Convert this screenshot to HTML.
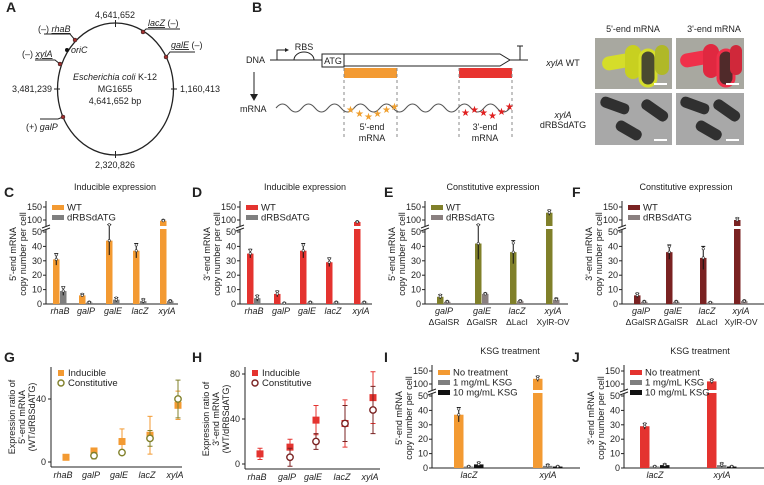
<!DOCTYPE html>
<html><head><meta charset="utf-8"><style>
html,body{margin:0;padding:0;background:#fff}
svg{display:block;font-family:"Liberation Sans",sans-serif}
text{fill:#222}
</style></head><body>
<svg id="fig" width="764" height="485" viewBox="0 0 764 485" xmlns="http://www.w3.org/2000/svg">
<g font-weight="bold" font-size="14">
<text x="6" y="12">A</text>
<text x="252" y="12">B</text>
<text x="4" y="197">C</text>
<text x="192" y="197">D</text>
<text x="384" y="197">E</text>
<text x="572" y="197">F</text>
<text x="4" y="362">G</text>
<text x="192" y="362">H</text>
<text x="384" y="362">I</text>
<text x="572" y="362">J</text>
</g>
<!-- Panel A -->
<g font-size="9">
<ellipse cx="115.5" cy="89" rx="58" ry="66" fill="none" stroke="#222" stroke-width="1.3"/>
<line x1="115.5" y1="20" x2="115.5" y2="27" stroke="#222"/>
<line x1="115.5" y1="151" x2="115.5" y2="158" stroke="#222"/>
<line x1="54" y1="89" x2="60" y2="89" stroke="#222"/>
<line x1="171" y1="89" x2="177" y2="89" stroke="#222"/>
<text x="115" y="18" text-anchor="middle">4,641,652</text>
<text x="115" y="168" text-anchor="middle">2,320,826</text>
<text x="52" y="92" text-anchor="end">3,481,239</text>
<text x="180" y="92">1,160,413</text>
<text x="115" y="80" text-anchor="middle" font-style="italic">Escherichia coli <tspan font-style="normal">K-12</tspan></text>
<text x="115" y="92" text-anchor="middle">MG1655</text>
<text x="115" y="104" text-anchor="middle">4,641,652 bp</text>
<g stroke="#222" fill="none">
<path d="M143,32 L146,29 L180,29"/>
<path d="M166,57 L170,52 L195,52"/>
<path d="M75,40 L70,34 L44,34"/>
<path d="M60,64 L55,60 L35,60"/>
<path d="M63,117 L58,119 L40,119"/>
</g>
<g fill="#a03030" stroke="#222" stroke-width="0.5">
<circle cx="143" cy="32" r="2"/>
<circle cx="166" cy="57" r="2"/>
<circle cx="75" cy="40" r="2"/>
<circle cx="60" cy="64" r="2"/>
<circle cx="63" cy="117" r="2"/>
</g>
<circle cx="67" cy="50" r="2" fill="#111"/>
<text x="71" y="53" font-style="italic">oriC</text>
<text x="148" y="26"><tspan font-style="italic" text-decoration="underline">lacZ</tspan> (–)</text>
<text x="171" y="48"><tspan font-style="italic" text-decoration="underline">galE</tspan> (–)</text>
<text x="38" y="32">(–) <tspan font-style="italic" text-decoration="underline">rhaB</tspan></text>
<text x="22" y="57">(–) <tspan font-style="italic" text-decoration="underline">xylA</tspan></text>
<text x="26" y="130">(+) <tspan font-style="italic">galP</tspan></text>
</g>
<!-- Panel B -->
<g font-size="9">
<text x="246" y="63">DNA</text>
<line x1="254" y1="72" x2="254" y2="96" stroke="#222"/>
<polygon points="250,94 258,94 254,101" fill="#222"/>
<text x="240" y="112">mRNA</text>
<line x1="270" y1="60" x2="322" y2="60" stroke="#222"/>
<path d="M277,60 L277,50 L285,50" fill="none" stroke="#222"/>
<polygon points="285,48 289,50 285,52" fill="#222"/>
<path d="M294,60 A10,8 0 0 1 314,60" fill="none" stroke="#222"/>
<text x="304" y="50" text-anchor="middle">RBS</text>
<rect x="322" y="54" width="22" height="13" fill="#fff" stroke="#222"/>
<text x="333" y="64" text-anchor="middle">ATG</text>
<path d="M344,54 L500,54 L510,60 L500,66 L344,66" fill="none" stroke="#222"/>
<line x1="510" y1="60" x2="528" y2="60" stroke="#222"/>
<path d="M520,60 L520,46 M517,46 L523,46" stroke="#222"/>
<rect x="344" y="68" width="53" height="10" fill="#f39a32"/>
<rect x="459" y="68" width="53" height="10" fill="#e8332f"/>
<g stroke="#888" stroke-dasharray="3,3"><line x1="344" y1="68" x2="344" y2="140"/><line x1="397" y1="68" x2="397" y2="140"/><line x1="459" y1="68" x2="459" y2="140"/><line x1="512" y1="68" x2="512" y2="140"/></g>
<path d="M276,108 q6.5,-8 13,0 t13,0 t13,0 t13,0 t13,0 t13,0 t13,0 t13,0 t13,0 t13,0 t13,0 t13,0 t13,0 t13,0 t13,0 t13,0 t13,0 t13,0" fill="none" stroke="#555"/>
<g font-size="10"><text x="346" y="113" style="fill:#f0a030">★</text><text x="355" y="117" style="fill:#f0a030">★</text><text x="364" y="120" style="fill:#f0a030">★</text><text x="373" y="117" style="fill:#f0a030">★</text><text x="382" y="113" style="fill:#f0a030">★</text><text x="390" y="110" style="fill:#f0a030">★</text></g>
<g font-size="10"><text x="461" y="116" style="fill:#e02020">★</text><text x="470" y="113" style="fill:#e02020">★</text><text x="479" y="116" style="fill:#e02020">★</text><text x="488" y="119" style="fill:#e02020">★</text><text x="497" y="115" style="fill:#e02020">★</text><text x="505" y="110" style="fill:#e02020">★</text></g>
<text x="372" y="130" text-anchor="middle">5'-end</text>
<text x="372" y="141" text-anchor="middle">mRNA</text>
<text x="485" y="130" text-anchor="middle">3'-end</text>
<text x="485" y="141" text-anchor="middle">mRNA</text>
</g>
<g font-size="9">
<text x="633" y="32" text-anchor="middle">5'-end mRNA</text>
<text x="714" y="32" text-anchor="middle">3'-end mRNA</text>
<text x="563" y="66" text-anchor="middle"><tspan font-style="italic">xylA</tspan> WT</text>
<text x="563" y="118" text-anchor="middle" font-style="italic">xylA</text>
<text x="563" y="128" text-anchor="middle">dRBSdATG</text>
<rect x="595" y="38" width="77" height="51" fill="#a8a8a0"/>
<rect x="676" y="38" width="68" height="51" fill="#a8a8a0"/>
<rect x="595" y="93" width="77" height="52" fill="#a8a8a8"/>
<rect x="676" y="93" width="68" height="52" fill="#a8a8a8"/>
<g><rect x="602" y="55" width="30" height="14" rx="7" fill="#d5dd2a" transform="rotate(-10 617 62)"/><rect x="625" y="45" width="16" height="34" rx="8" fill="#c8d020"/><rect x="640" y="50" width="16" height="36" rx="8" fill="#4a4a30" stroke="#d5dd2a" stroke-width="3"/><rect x="655" y="45" width="14" height="30" rx="7" fill="#b0b828"/></g>
<g><rect x="680" y="52" width="30" height="14" rx="7" fill="#f0304a" transform="rotate(-10 695 59)"/><rect x="703" y="44" width="16" height="34" rx="8" fill="#e02840"/><rect x="718" y="50" width="16" height="36" rx="8" fill="#502a2a" stroke="#f0304a" stroke-width="3"/><rect x="730" y="45" width="12" height="30" rx="6" fill="#d0283a"/></g>
<g fill="#303030"><rect x="600" y="100" width="30" height="11" rx="5" transform="rotate(20 615 105)"/><rect x="640" y="105" width="30" height="11" rx="5" transform="rotate(35 655 110)"/><rect x="615" y="125" width="28" height="11" rx="5" transform="rotate(30 629 130)"/><rect x="680" y="100" width="30" height="11" rx="5" transform="rotate(20 695 105)"/><rect x="712" y="105" width="30" height="11" rx="5" transform="rotate(35 727 110)"/><rect x="695" y="125" width="28" height="11" rx="5" transform="rotate(30 709 130)"/></g>
<g stroke="#fff" stroke-width="2"><line x1="654" y1="84" x2="667" y2="84"/><line x1="726" y1="84" x2="739" y2="84"/><line x1="654" y1="140" x2="667" y2="140"/><line x1="726" y1="140" x2="739" y2="140"/></g>
</g>
<g id="charts"></g>
</svg>
<script>
// ---- data ----
var catsInducible = ["rhaB","galP","galE","lacZ","xylA"];
var catsConst = ["galP","galE","lacZ","xylA"];
var catsConst2 = ["\u0394GalSR","\u0394GalSR","\u0394LacI","XylR-OV"];
var cWT = [31,6,44,37,92];      var cWTerr = [4,1,10,5,8];
var cMut = [9,1,3,2,2];         var cMutErr = [3,0.5,1.5,1.5,0.5];
var dWT = [35,7,37,29,80];      var dWTerr = [3,2,5,3,6];
var dMut = [4,0.5,1,1,1];       var dMutErr = [2,0.3,0.5,0.5,0.5];
var eWT = [5,42,36,128];        var eWTerr = [1.5,11,8,10];
var eMut = [1.5,7,2,3];         var eMutErr = [0.5,0.5,0.5,1];
var fWT = [6,36,32,100];        var fWTerr = [1.5,5,8,8];
var fMut = [1.5,1.5,1,2];       var fMutErr = [0.5,0.5,0.3,0.5];
var catsKSG = ["lacZ","xylA"];
var iNo = [37,120];  var iNoErr = [5,10];
var i1 = [1,1.5];    var i1Err = [0.3,1];
var i10 = [2.5,1];   var i10Err = [1.5,0.3];
var jNo = [29,110];  var jNoErr = [2,8];
var j1 = [1,2];      var j1Err = [0.3,1.5];
var j10 = [2,1];     var j10Err = [0.8,0.3];
var gInd = [3,7,13,17,36];   var gIndErr = [0,1,8,12,9];
var gCon = [null,4,6,15,40]; var gConErr = [0,2,1,5,12];
var hInd = [9,15,39,36,59];  var hIndErr = [5,7,13,21,23];
var hCon = [null,6,20,36,48]; var hConErr = [0,8,7,16,21];
var barTicks = [0,10,20,30,40,50,100,150];
var gTicks = [0,40];
var hTicks = [0,40,80];

var NS="http://www.w3.org/2000/svg";
var root=document.getElementById('charts');
function mk(tag, attrs, name, parent){
  var el=document.createElementNS(NS,tag);
  for(var k in attrs) el.setAttribute(k,attrs[k]);
  
  
  (parent||root).appendChild(el);
  return el;
}
function txt(x,y,s,name,opt,parent){
  var a={x:x,y:y,'font-size':(opt&&opt.fs)||9};
  if(opt&&opt.anchor) a['text-anchor']=opt.anchor;
  if(opt&&opt.italic) a['font-style']='italic';
  if(opt&&opt.rot) a.transform='rotate(-90 '+x+' '+y+')';
  var t=mk('text',a,name,parent); t.textContent=s; return t;
}
function ybScale(y0){
  return function(v){
    if(v<=50) return y0 - v*1.44;
    if(v<=100) return y0-79-(v-50)*0.1;
    return y0-84-(v-100)*0.26;
  };
}
function barPanel(p){
  var g=mk('g',{},p.name);
  var y=ybScale(p.y0);
  var top=p.y0-103;
  mk('line',{x1:p.ax,y1:p.y0,x2:p.ax,y2:top,stroke:'#222'},p.name+'-y-axis',g);
  mk('line',{x1:p.ax,y1:p.y0,x2:p.axEnd,y2:p.y0,stroke:'#222'},p.name+'-x-axis',g);
  mk('rect',{x:p.ax-4,y:p.y0-78,width:8,height:3,fill:'#fff'},p.name+'-axis-break',g);
  mk('path',{d:'M'+(p.ax-4)+','+(p.y0-76)+'l8,-3 M'+(p.ax-4)+','+(p.y0-73)+'l8,-3',stroke:'#222',fill:'none'},p.name+'-break-mark',g);
  barTicks.forEach(function(t){
    var yy=y(t);
    mk('line',{x1:p.ax-3,y1:yy,x2:p.ax,y2:yy,stroke:'#222'},p.name+'-tick',g);
    txt(p.ax-4,yy+3,String(t),p.name+'-tick-label',{anchor:'end'},g);
  });
  txt(p.ax-30,p.y0-50,p.yt1,p.name+'-y-title-1',{anchor:'middle',rot:true},g);
  txt(p.ax-20,p.y0-50,'copy number per cell',p.name+'-y-title-2',{anchor:'middle',rot:true},g);
  if(p.title) txt(p.titleX,p.y0-114,p.title,p.name+'-title',{anchor:'middle'},g);
  var n=p.series.length, bw=p.bw;
  p.cx.forEach(function(cx,i){
    p.series.forEach(function(s,k){
      var v=s.vals[i]; if(v==null) return;
      var bx=cx-(n*bw)/2+k*bw;
      var yt=y(v);
      mk('rect',{x:bx,y:yt,width:bw-0.5,height:p.y0-yt,fill:s.color},p.name+'-bar-'+s.key+'-'+p.cats[i],g);
      if(v>50) mk('rect',{x:bx-0.5,y:p.y0-78,width:bw+0.5,height:3,fill:'#fff'},p.name+'-bar-gap',g);
      var e=s.err[i], xm=bx+bw/2-0.25;
      mk('line',{x1:xm,y1:y(v+e),x2:xm,y2:y(Math.max(0,v-e)),stroke:'#111','stroke-width':1},p.name+'-err',g);
      mk('line',{x1:xm-2,y1:y(v+e),x2:xm+2,y2:y(v+e),stroke:'#111'},p.name+'-err-cap',g);
      mk('circle',{cx:xm,cy:y(v+e*0.8),r:1.2,fill:'#fff',stroke:'#333','stroke-width':0.6},p.name+'-point',g);
      mk('circle',{cx:xm,cy:y(v),r:1.2,fill:'#fff',stroke:'#333','stroke-width':0.6},p.name+'-point',g);
    });
    txt(cx,p.y0+10,p.cats[i],p.name+'-cat-label',{anchor:'middle',italic:true},g);
    if(p.cats2) txt(cx,p.y0+21,p.cats2[i],p.name+'-cat-label-2',{anchor:'middle',fs:8.5},g);
  });
  p.series.forEach(function(s,k){
    var ly=p.legY+k*10;
    mk('rect',{x:p.ax+6,y:ly-4,width:12,height:5,fill:s.color},p.name+'-legend-swatch',g);
    txt(p.ax+21,ly+1.5,s.label,p.name+'-legend-label',{fs:9.5},g);
  });
}
barPanel({name:'chart-c',ax:46,axEnd:178,y0:304,cats:catsInducible,cx:[60,86,113,140,167],bw:7,title:'Inducible expression',titleX:115,yt1:"5'-end mRNA",legY:209,
  series:[{key:'wt',label:'WT',color:'#f39a32',vals:cWT,err:cWTerr},{key:'mut',label:'dRBSdATG',color:'#7f7f7f',vals:cMut,err:cMutErr}]});
barPanel({name:'chart-d',ax:240,axEnd:372,y0:304,cats:catsInducible,cx:[254,281,307,333,361],bw:7,title:'Inducible expression',titleX:305,yt1:"3'-end mRNA",legY:209,
  series:[{key:'wt',label:'WT',color:'#e4332f',vals:dWT,err:dWTerr},{key:'mut',label:'dRBSdATG',color:'#7f7f7f',vals:dMut,err:dMutErr}]});
barPanel({name:'chart-e',ax:425,axEnd:568,y0:304,cats:catsConst,cats2:catsConst2,cx:[444,482,517,553],bw:7,title:'Constitutive expression',titleX:493,yt1:"5'-end mRNA",legY:209,
  series:[{key:'wt',label:'WT',color:'#80802a',vals:eWT,err:eWTerr},{key:'mut',label:'dRBSdATG',color:'#8a8080',vals:eMut,err:eMutErr}]});
barPanel({name:'chart-f',ax:622,axEnd:764,y0:304,cats:catsConst,cats2:catsConst2,cx:[641,673,707,741],bw:7,title:'Constitutive expression',titleX:686,yt1:"3'-end mRNA",legY:209,
  series:[{key:'wt',label:'WT',color:'#7a2222',vals:fWT,err:fWTerr},{key:'mut',label:'dRBSdATG',color:'#8a8080',vals:fMut,err:fMutErr}]});
barPanel({name:'chart-i',ax:432,axEnd:580,y0:468,cats:catsKSG,cx:[469,548],bw:10,title:'KSG treatment',titleX:510,yt1:"5'-end mRNA",legY:374,
  series:[{key:'no',label:'No treatment',color:'#f39a32',vals:iNo,err:iNoErr},{key:'k1',label:'1 mg/mL KSG',color:'#7f7f7f',vals:i1,err:i1Err},{key:'k10',label:'10 mg/mL KSG',color:'#111',vals:i10,err:i10Err}]});
barPanel({name:'chart-j',ax:624,axEnd:764,y0:468,cats:catsKSG,cx:[655,722],bw:10,title:'KSG treatment',titleX:700,yt1:"3'-end mRNA",legY:374,
  series:[{key:'no',label:'No treatment',color:'#e4332f',vals:jNo,err:jNoErr},{key:'k1',label:'1 mg/mL KSG',color:'#7f7f7f',vals:j1,err:j1Err},{key:'k10',label:'10 mg/mL KSG',color:'#111',vals:j10,err:j10Err}]});

function scatterPanel(p){
  var g=mk('g',{},p.name);
  var y=function(v){return p.y0 - v*p.k;};
  mk('line',{x1:p.ax,y1:p.y0+5,x2:p.ax,y2:367,stroke:'#222'},p.name+'-y-axis',g);
  mk('line',{x1:p.ax,y1:p.y0+5,x2:p.axEnd,y2:p.y0+5,stroke:'#222'},p.name+'-x-axis',g);
  p.ticks.forEach(function(t){
    mk('line',{x1:p.ax-3,y1:y(t),x2:p.ax,y2:y(t),stroke:'#222'},p.name+'-tick',g);
    txt(p.ax-5,y(t)+3,String(t),p.name+'-tick-label',{anchor:'end'},g);
  });
  txt(p.ax-36,p.y0-45,'Expression ratio of',p.name+'-y-title-1',{anchor:'middle',rot:true},g);
  txt(p.ax-26,p.y0-45,p.yt,p.name+'-y-title-2',{anchor:'middle',rot:true},g);
  txt(p.ax-16,p.y0-45,'(WT/dRBSdATG)',p.name+'-y-title-3',{anchor:'middle',rot:true},g);
  p.cx.forEach(function(cx,i){
    txt(cx-3,p.y0+16,catsInducible[i],p.name+'-cat-label',{anchor:'middle',italic:true},g);
    [[p.ind,p.indErr,p.c1,'ind'],[p.con,p.conErr,p.c2,'con']].forEach(function(s){
      var v=s[0][i]; if(v==null) return; var e=s[1][i];
      if(e>0){
        mk('line',{x1:cx,y1:y(v+e),x2:cx,y2:y(Math.max(-3,v-e)),stroke:s[2]},p.name+'-err-'+s[3],g);
        mk('line',{x1:cx-2.5,y1:y(v+e),x2:cx+2.5,y2:y(v+e),stroke:s[2]},p.name+'-err-cap',g);
        mk('line',{x1:cx-2.5,y1:y(v-e),x2:cx+2.5,y2:y(v-e),stroke:s[2]},p.name+'-err-cap',g);
      }
      if(s[3]=='ind') mk('rect',{x:cx-3.5,y:y(v)-3.5,width:7,height:7,fill:s[2]},p.name+'-point-inducible',g);
      else mk('circle',{cx:cx,cy:y(v),r:3.2,fill:'#fff',stroke:s[2],'stroke-width':1.4},p.name+'-point-constitutive',g);
    });
  });
  mk('rect',{x:p.ax+7,y:370,width:6,height:6,fill:p.c1},p.name+'-legend-swatch-ind',g);
  txt(p.ax+17,376,'Inducible',p.name+'-legend-ind',{fs:9.5},g);
  mk('circle',{cx:p.ax+10,cy:383,r:3,fill:'#fff',stroke:p.c2,'stroke-width':1.4},p.name+'-legend-swatch-con',g);
  txt(p.ax+17,386,'Constitutive',p.name+'-legend-con',{fs:9.5},g);
}
scatterPanel({name:'chart-g',ax:51,axEnd:182,y0:462,k:63/40,ticks:gTicks,cx:[66,94,122,150,178],ind:gInd,indErr:gIndErr,con:gCon,conErr:gConErr,c1:'#f39a32',c2:'#80802a',yt:"5'-end mRNA"});
scatterPanel({name:'chart-h',ax:245,axEnd:380,y0:464,k:90/80,ticks:hTicks,cx:[260,290,316,345,373],ind:hInd,indErr:hIndErr,con:hCon,conErr:hConErr,c1:'#e4332f',c2:'#7a2222',yt:"3'-end mRNA"});
</script>
</body></html>
